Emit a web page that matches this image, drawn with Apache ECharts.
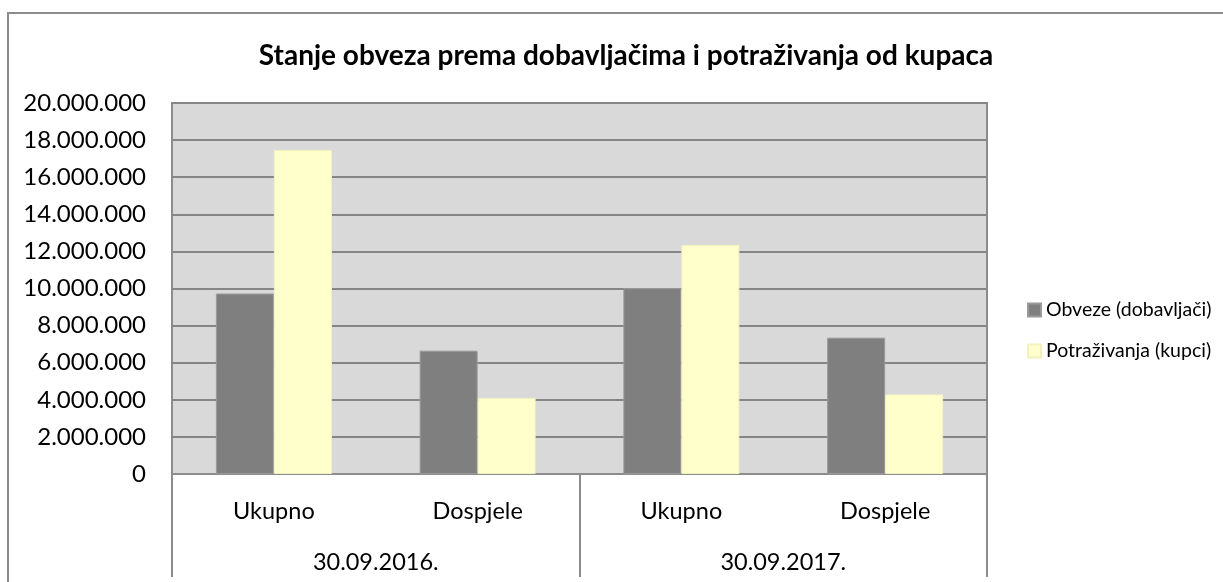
<!DOCTYPE html>
<html>
<head>
<meta charset="utf-8">
<script src="https://cdn.jsdelivr.net/npm/echarts@6/dist/echarts.min.js"></script>
<style>
  html, body { margin: 0; padding: 0; background: #fff; }
  #main { width: 1223px; height: 582px; }
</style>
</head>
<body>
<div id="main"></div>
<script>
// values
var kategorije = ['Ukupno', 'Dospjele', 'Ukupno', 'Dospjele'];
var datumi = ['30.09.2016.', '30.09.2017.'];
var obveze = [9730000, 6650000, 10020000, 7350000];
var potrazivanja = [17470000, 4100000, 12350000, 4290000];
var nazivi = ['Obveze (dobavljači)', 'Potraživanja (kupci)'];

var font = 'Lato';

// 20000000 -> 20.000.000
function tocke(v) {
    return String(v).replace(/\B(?=(\d{3})+(?!\d))/g, '.');
}

var myChart = echarts.init(document.getElementById('main'), null, { renderer: 'canvas' });

var option = {
    backgroundColor: '#fff',
    animation: false,
    textStyle: { fontFamily: font, color: '#000' },
    title: {
        text: 'Stanje obveza prema dobavljačima i potraživanja od kupaca',
        left: 621,
        top: 37,
        textAlign: 'center',
        textStyle: { fontFamily: font, fontSize: 28, fontWeight: 'bold', color: '#000' }
    },
    graphic: [{
        // outer chart frame
        type: 'rect',
        shape: { x: 8, y: 13, width: 1400, height: 800 },
        style: { fill: null, stroke: '#8c8c8c', lineWidth: 2 },
        silent: true,
        z: -1
    }],
    legend: {
        orient: 'vertical',
        left: 1027,
        top: 300,
        padding: 0,
        itemWidth: 13,
        itemHeight: 13,
        itemGap: 21,
        icon: 'rect',
        textStyle: { fontFamily: font, fontSize: 19.5, color: '#000' },
        data: nazivi
    },
    grid: {
        left: 172,
        right: 236,
        top: 103,
        bottom: 108,
        show: true,
        backgroundColor: '#d9d9d9',
        borderColor: '#8c8c8c',
        borderWidth: 2
    },
    xAxis: [{
        type: 'category',
        data: kategorije,
        position: 'bottom',
        axisLine: { show: true, lineStyle: { color: '#8c8c8c', width: 2 } },
        axisTick: { show: false },
        axisLabel: { margin: 25, fontFamily: font, fontSize: 23.5, color: '#000' }
    }, {
        type: 'category',
        data: datumi,
        position: 'bottom',
        axisLine: { show: false },
        axisTick: { show: true, length: 103, lineStyle: { color: '#8c8c8c', width: 2 } },
        axisLabel: { margin: 76, fontFamily: font, fontSize: 23.5, color: '#000' },
        splitLine: { show: false }
    }],
    yAxis: {
        type: 'value',
        min: 0,
        max: 20000000,
        interval: 2000000,
        axisLine: { show: false },
        axisTick: { show: false },
        splitLine: { lineStyle: { color: '#868686', width: 2 } },
        axisLabel: {
            margin: 26,
            fontFamily: font,
            fontSize: 24,
            color: '#000',
            formatter: tocke
        }
    },
    series: [{
        name: nazivi[0],
        type: 'bar',
        xAxisIndex: 0,
        data: obveze,
        barWidth: 58,
        barGap: '0%',
        itemStyle: { color: '#7f7f7f', borderColor: '#9a9a9a', borderWidth: 1 }
    }, {
        name: nazivi[1],
        type: 'bar',
        xAxisIndex: 0,
        data: potrazivanja,
        barWidth: 58,
        barGap: '0%',
        itemStyle: { color: '#ffffcc', borderColor: '#f2f2c0', borderWidth: 1 }
    }]
};

myChart.setOption(option);
window.addEventListener('resize', function () {
    myChart.resize();
});
</script>
</body>
</html>
